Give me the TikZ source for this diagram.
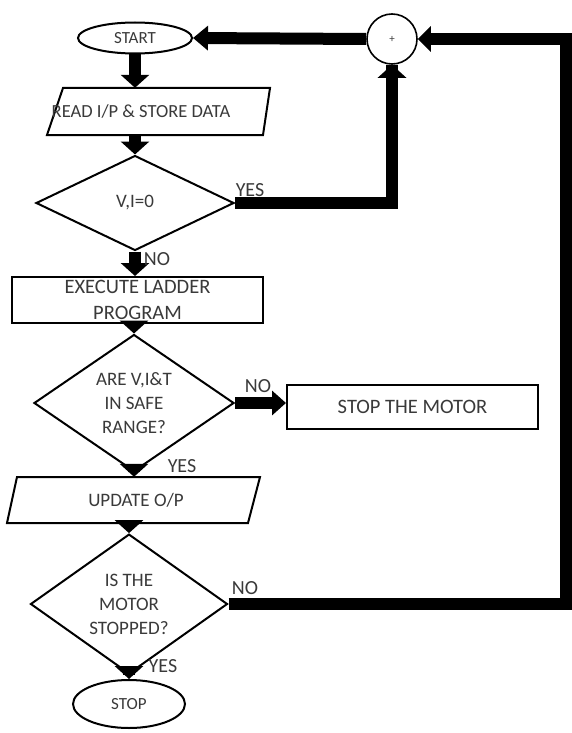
\documentclass[tikz,border=0pt]{standalone}
\usepackage{fontspec}
\setmainfont{Carlito}
\usetikzlibrary{arrows.meta,shapes.geometric,calc}
\definecolor{txt}{HTML}{3A3A3A}
\begin{document}
\begin{tikzpicture}[x=1pt,y=-1pt,
  outline/.style={draw=black, line width=2pt, fill=white},
  box/.style={outline, text=txt, align=center, inner sep=0pt},
  term/.style={box, ellipse, font=\fontsize{17}{20}\selectfont},
  dec/.style={box, diamond, font=\fontsize{19}{24}\selectfont},
  rectbox/.style={box, rectangle},
  plain/.style={text=txt, align=center, inner sep=0pt},
  fat/.style={line width=12pt, -{Triangle[length=13pt,width=28pt]}},
  fatline/.style={line width=12pt},
  lbl/.style={text=txt, font=\fontsize{20}{22}\selectfont, inner sep=0pt},
]
\useasboundingbox (0,0) rectangle (571,733);

% terminals
\node[term, minimum width=114pt, minimum height=31pt] (start) at (135,38) {START};
\node[term, minimum width=112pt, minimum height=48pt] (stop) at (129,704) {STOP};

% input parallelogram
\draw[outline] (63,88) -- (270,88) -- (263,135) -- (47,135) -- cycle;
\node[plain, minimum height=47pt, font=\fontsize{18.5}{20}\selectfont] (read) at (141,111.5) {READ I/P \& STORE DATA};

% decision 1
\node[dec, minimum width=198pt, minimum height=95pt] (d1) at (135,203) {V,I=0};

% summing junction
\node[draw=black, line width=1.6pt, fill=white, circle, minimum size=50pt, inner sep=0pt,
      text=txt, font=\fontsize{11}{12}\selectfont] (sum) at (392,39) {+};

% execute ladder
\node[rectbox, minimum width=251pt, minimum height=46pt, font=\fontsize{20.5}{26}\selectfont] (exec) at (137.5,300) {EXECUTE LADDER\\PROGRAM};

% decision 2
\node[dec, minimum width=200pt, minimum height=98pt] (d2) at (134,403) {ARE V,I\&T\\IN SAFE\\RANGE?};

% stop the motor
\node[rectbox, minimum width=251pt, minimum height=44pt, font=\fontsize{20.5}{22}\selectfont] (stopm) at (412.5,407) {STOP THE MOTOR};

% update output parallelogram
\draw[outline] (17,477) -- (260,477) -- (248,523) -- (7,523) -- cycle;
\node[plain, minimum height=46pt, font=\fontsize{19}{20}\selectfont] (upd) at (136,500) {UPDATE O/P};

% decision 3
\node[dec, minimum width=197pt, minimum height=98pt] (d3) at (129,604) {IS THE\\MOTOR\\STOPPED?};

% connectors
\draw[fat] (start.south) -- (start.south |- read.north);
\draw[fat] (d1.north |- read.south) -- (d1.north);
\draw[fatline] (d1.east) -| (sum.south);
\draw[fat] ($(sum.south)+(0,20)$) -- (sum.south);
\draw[fat, -{Triangle[length=15pt,width=24pt]}] (sum.west) -- (start.east);
\draw[fat] (d1.south) -- (d1.south |- exec.north);
\draw[fat] (d2.north |- exec.south) -- (d2.north);
\draw[fat, -{Triangle[length=14pt,width=24pt]}] (d2.east) -- (d2.east -| stopm.west);
\draw[fat] (d2.south) -- (d2.south |- upd.north);
\draw[fat] (d3.north |- upd.south) -- (d3.north);
\coordinate (rc) at (566,604);
\draw[fatline] (d3.east) -- (rc) |- ($(sum.east)+(20,0)$);
\draw[fat, -{Triangle[length=13pt,width=25pt]}] ($(sum.east)+(20,0)$) -- (sum.east);
\draw[fat] (d3.south) -- (stop.north);

% labels
\node[lbl] (l1) at (250,190) {YES};
\node[lbl] (l2) at (157,259) {NO};
\node[lbl] (l3) at (258,386) {NO};
\node[lbl] (l4) at (182,466) {YES};
\node[lbl] (l5) at (245,588) {NO};
\node[lbl] (l6) at (163,666) {YES};
\end{tikzpicture}
\end{document}
